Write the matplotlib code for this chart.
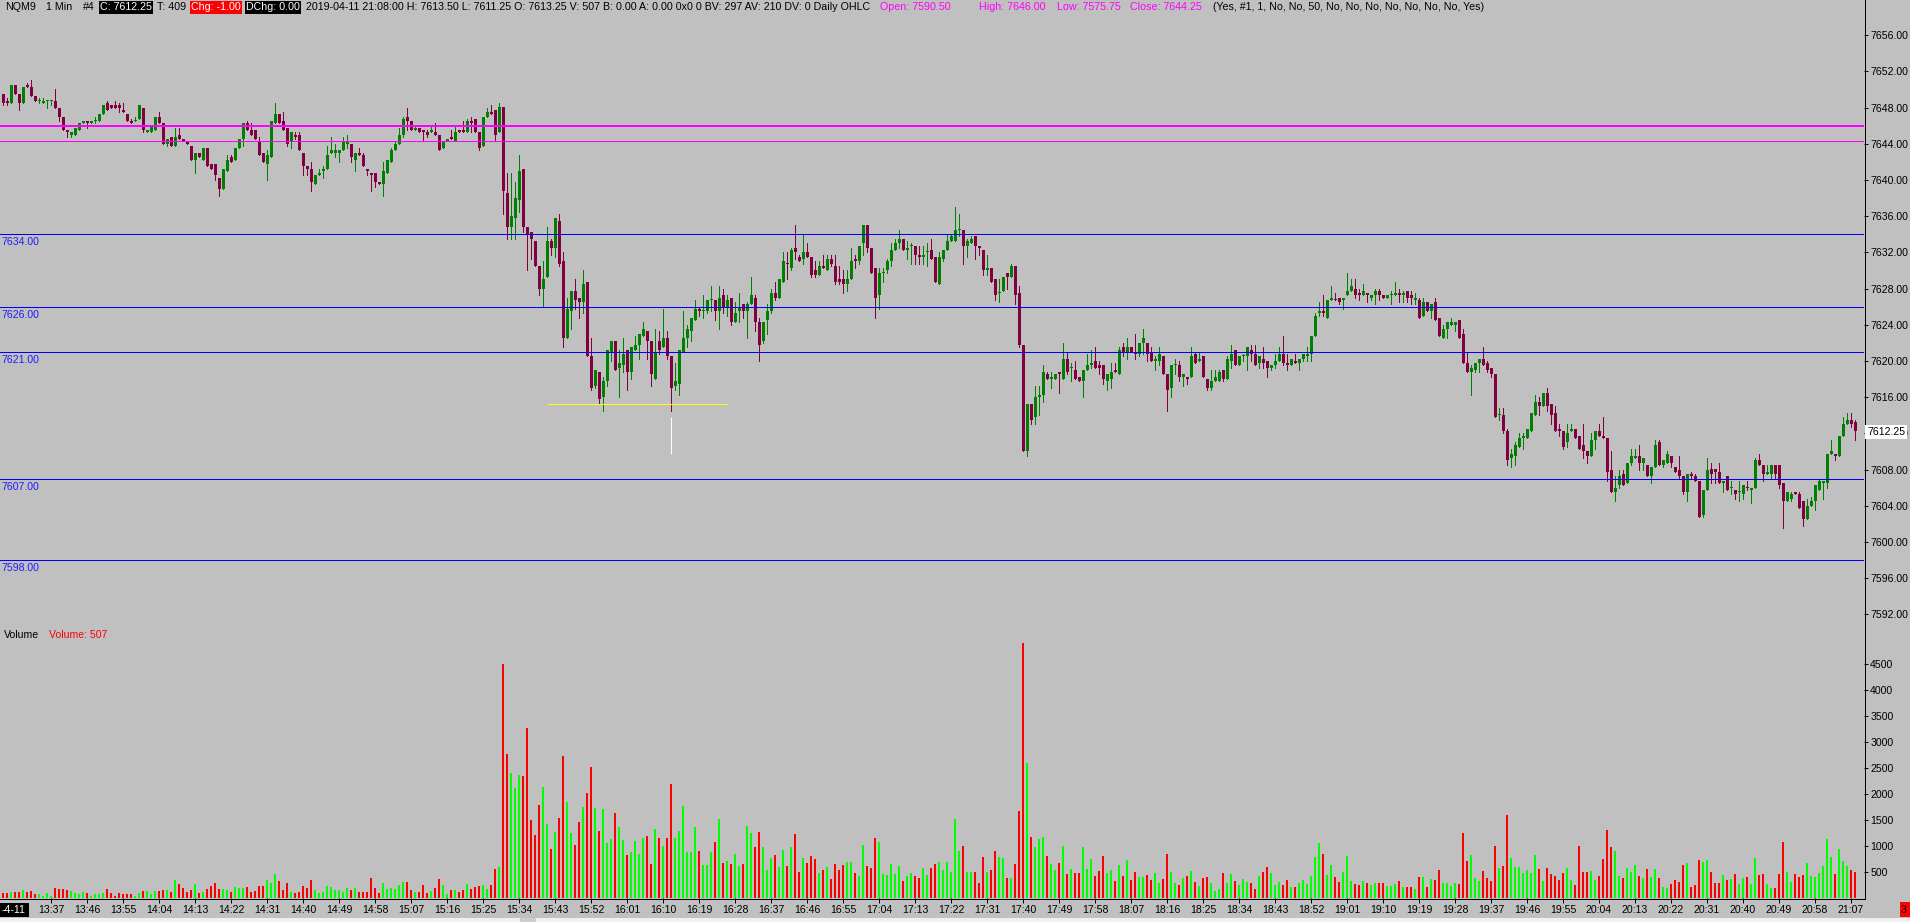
import numpy as np
import matplotlib
matplotlib.use('Agg')
import matplotlib.pyplot as plt
from matplotlib import font_manager
from matplotlib.lines import Line2D
from matplotlib.patches import Rectangle

# ---------------------------------------------------------------
# NQM9 1 min bars, 13:25 -> 21:08 (one bar per minute)
start_time = '13:25'

opens = [
    7649.5, 7648.75, 7648.5, 7650.5, 7649.5, 7648.5, 7650.5, 7650.25, 7649.25, 7648.75,
    7648.5, 7648.75, 7648.75, 7648.75, 7648.0, 7647.0, 7645.5, 7645.0, 7645.0, 7645.5,
    7646.25, 7646.5, 7646.25, 7646.5, 7646.5, 7647.25, 7648.5, 7648.25, 7648.25, 7648.25,
    7647.75, 7647.25, 7646.5, 7646.5, 7646.75, 7648.0, 7645.25, 7645.25, 7645.5, 7647.0,
    7646.25, 7644.0, 7644.75, 7643.75, 7645.0, 7644.5, 7644.25, 7643.75, 7642.25, 7643.0,
    7642.25, 7643.5, 7641.75, 7641.75, 7640.25, 7639.0, 7641.0, 7642.5, 7642.25, 7643.5,
    7644.5, 7646.25, 7645.5, 7645.5, 7644.25, 7643.0, 7641.75, 7642.5, 7646.25, 7647.25,
    7646.5, 7645.75, 7644.25, 7645.0, 7645.0, 7643.0, 7641.5, 7641.25, 7639.5, 7640.5,
    7641.0, 7641.25, 7643.0, 7643.0, 7643.0, 7643.25, 7644.0, 7644.0, 7642.25, 7643.0,
    7642.75, 7641.25, 7640.75, 7640.75, 7639.75, 7639.5, 7640.75, 7642.0, 7643.25, 7644.0,
    7645.0, 7647.0, 7646.5, 7645.5, 7645.75, 7645.5, 7645.25, 7645.25, 7645.25, 7645.0,
    7643.5, 7644.25, 7644.75, 7644.25, 7645.5, 7645.5, 7645.25, 7646.5, 7646.75, 7645.25,
    7643.75, 7647.0, 7647.5, 7647.75, 7645.25, 7648.0, 7638.5, 7634.75, 7635.75, 7637.75,
    7641.25, 7634.75, 7634.25, 7633.25, 7630.5, 7628.0, 7629.25, 7633.25, 7632.5, 7635.5,
    7631.0, 7622.5, 7625.5, 7627.75, 7627.0, 7626.5, 7628.75, 7620.5, 7617.25, 7618.75,
    7616.0, 7617.75, 7621.0, 7622.25, 7619.25, 7619.5, 7621.25, 7618.75, 7621.25, 7621.75,
    7622.75, 7623.25, 7622.25, 7618.0, 7622.25, 7621.5, 7622.5, 7620.5, 7617.25, 7617.5,
    7621.0, 7622.5, 7623.25, 7624.5, 7625.75, 7625.5, 7625.5, 7626.75, 7626.75, 7625.5,
    7627.25, 7626.0, 7627.0, 7624.25, 7625.5, 7626.25, 7625.5, 7626.25, 7627.0, 7624.25,
    7622.25, 7624.5, 7625.5, 7627.5, 7627.0, 7628.75, 7630.75, 7630.25, 7632.5, 7631.5,
    7631.25, 7632.0, 7631.5, 7630.0, 7629.5, 7630.5, 7630.0, 7631.25, 7630.5, 7629.0,
    7629.0, 7628.5, 7629.0, 7631.25, 7631.0, 7633.0, 7635.0, 7632.5, 7630.25, 7627.25,
    7629.75, 7630.0, 7631.0, 7632.25, 7633.0, 7633.5, 7632.25, 7632.75, 7632.75, 7631.75,
    7631.5, 7632.0, 7632.25, 7631.5, 7628.5, 7631.25, 7632.25, 7633.25, 7633.25, 7634.5,
    7634.5, 7632.75, 7633.0, 7633.75, 7632.75, 7632.25, 7630.0, 7630.25, 7629.0, 7627.5,
    7627.75, 7629.75, 7629.25, 7630.5, 7627.5, 7621.75, 7610.0, 7615.25, 7613.75, 7616.0,
    7616.25, 7618.5, 7618.0, 7618.0, 7618.75, 7618.0, 7620.25, 7619.25, 7619.0, 7618.25,
    7617.75, 7619.0, 7619.5, 7620.0, 7619.5, 7619.5, 7617.75, 7618.0, 7619.0, 7618.5,
    7621.5, 7621.0, 7621.5, 7621.0, 7620.75, 7622.0, 7622.0, 7621.0, 7620.0, 7620.0,
    7620.5, 7618.5, 7617.0, 7619.5, 7619.5, 7618.25, 7618.25, 7618.25, 7620.75, 7620.0,
    7620.5, 7618.0, 7617.0, 7617.75, 7617.75, 7619.0, 7618.0, 7620.0, 7621.25, 7619.5,
    7620.5, 7620.5, 7621.25, 7620.75, 7619.75, 7620.25, 7620.0, 7619.25, 7619.5, 7620.0,
    7620.75, 7619.75, 7619.5, 7620.0, 7619.75, 7620.25, 7620.5, 7620.75, 7622.75, 7625.25,
    7625.5, 7624.75, 7626.75, 7626.75, 7627.0, 7626.75, 7627.25, 7627.75, 7628.0, 7627.5,
    7627.25, 7627.5, 7627.0, 7627.25, 7627.75, 7627.25, 7627.0, 7627.25, 7627.25, 7627.5,
    7627.25, 7627.75, 7627.25, 7626.75, 7626.75, 7625.0, 7626.5, 7625.5, 7626.5, 7624.75,
    7622.5, 7623.5, 7624.0, 7624.0, 7624.5, 7623.0, 7619.75, 7618.75, 7619.0, 7619.75,
    7620.25, 7619.75, 7619.25, 7618.5, 7614.0, 7614.0, 7612.25, 7609.25, 7609.5, 7610.5,
    7611.5, 7611.5, 7612.25, 7614.0, 7615.5, 7615.0, 7616.5, 7615.25, 7614.25, 7612.5,
    7612.25, 7611.0, 7612.25, 7612.5, 7611.75, 7610.75, 7610.0, 7609.5, 7611.25, 7612.25,
    7611.75, 7611.5, 7608.0, 7605.5, 7606.25, 7607.5, 7606.5, 7608.75, 7609.25, 7609.5,
    7608.75, 7608.5, 7607.25, 7608.25, 7611.0, 7608.5, 7608.75, 7609.5, 7608.25, 7608.0,
    7607.25, 7605.5, 7607.5, 7607.25, 7606.75, 7603.0, 7605.75, 7608.0, 7608.0, 7607.75,
    7606.5, 7607.25, 7606.0, 7605.75, 7605.5, 7605.25, 7606.0, 7605.75, 7606.0, 7609.0,
    7608.5, 7607.5, 7607.5, 7608.5, 7608.5, 7606.5, 7604.5, 7604.75, 7605.5, 7605.25,
    7604.5, 7602.5, 7604.0, 7604.5, 7605.75, 7606.5, 7606.5, 7609.75, 7609.75, 7609.5,
    7611.75, 7613.0, 7613.5, 7613.25,
]

highs = [
    7649.5, 7649.0, 7650.5, 7650.5, 7649.5, 7650.25, 7650.75, 7651.0, 7649.25, 7649.0,
    7649.0, 7648.75, 7648.75, 7650.0, 7648.0, 7647.0, 7645.5, 7645.25, 7645.75, 7646.25,
    7646.5, 7646.5, 7646.5, 7647.0, 7647.25, 7648.25, 7648.75, 7648.25, 7648.75, 7648.5,
    7648.5, 7647.25, 7646.75, 7647.0, 7648.25, 7648.0, 7645.5, 7646.0, 7647.0, 7647.5,
    7646.25, 7644.5, 7644.75, 7645.75, 7645.75, 7644.5, 7644.25, 7643.75, 7643.0, 7643.0,
    7643.5, 7643.5, 7641.75, 7641.75, 7640.25, 7641.25, 7642.75, 7642.75, 7643.5, 7644.5,
    7646.25, 7646.5, 7646.25, 7645.5, 7644.75, 7643.0, 7643.25, 7646.5, 7648.5, 7647.25,
    7647.5, 7645.75, 7645.25, 7645.25, 7645.25, 7643.0, 7641.5, 7642.0, 7640.5, 7641.25,
    7641.5, 7643.75, 7644.75, 7644.0, 7643.25, 7644.75, 7645.0, 7644.0, 7643.0, 7643.5,
    7643.0, 7641.25, 7640.75, 7640.75, 7639.75, 7642.0, 7642.25, 7643.5, 7644.25, 7645.75,
    7647.0, 7648.0, 7646.5, 7646.0, 7645.75, 7645.5, 7645.5, 7646.0, 7646.25, 7645.0,
    7644.25, 7644.5, 7645.5, 7646.0, 7645.5, 7646.5, 7646.75, 7647.0, 7646.75, 7645.25,
    7647.0, 7648.0, 7648.25, 7647.75, 7648.5, 7648.0, 7640.75, 7640.75, 7639.75, 7642.75,
    7641.25, 7634.75, 7634.25, 7633.25, 7630.5, 7631.0, 7634.75, 7633.5, 7635.75, 7636.25,
    7632.0, 7627.0, 7627.75, 7629.0, 7627.0, 7630.0, 7628.75, 7622.5, 7619.0, 7618.75,
    7618.25, 7621.25, 7622.25, 7622.25, 7621.25, 7622.5, 7621.25, 7621.5, 7622.75, 7623.0,
    7624.25, 7623.25, 7622.25, 7623.5, 7623.25, 7625.75, 7623.25, 7620.5, 7619.75, 7621.25,
    7625.5, 7624.0, 7624.75, 7626.75, 7626.0, 7627.25, 7626.75, 7628.25, 7626.75, 7628.25,
    7628.0, 7627.25, 7627.0, 7626.5, 7627.5, 7626.25, 7626.5, 7629.25, 7627.25, 7624.75,
    7624.25, 7626.25, 7628.0, 7628.75, 7629.0, 7632.0, 7632.0, 7632.5, 7635.0, 7631.75,
    7634.0, 7633.0, 7631.5, 7631.0, 7631.0, 7631.75, 7631.75, 7631.75, 7631.75, 7630.5,
    7630.0, 7630.0, 7632.5, 7631.75, 7632.75, 7635.0, 7635.0, 7632.5, 7630.25, 7630.25,
    7630.25, 7631.25, 7633.0, 7633.5, 7634.5, 7633.5, 7633.25, 7633.0, 7632.75, 7632.75,
    7632.75, 7633.0, 7633.5, 7631.5, 7632.0, 7632.25, 7634.0, 7634.0, 7637.0, 7636.25,
    7634.5, 7633.5, 7633.75, 7633.75, 7632.75, 7632.25, 7631.75, 7630.25, 7629.0, 7629.0,
    7629.25, 7629.75, 7630.75, 7630.5, 7628.25, 7621.75, 7615.25, 7615.25, 7617.25, 7617.25,
    7619.5, 7618.75, 7618.75, 7618.5, 7618.75, 7622.0, 7621.0, 7619.75, 7620.0, 7618.25,
    7619.0, 7620.75, 7621.25, 7621.5, 7620.0, 7619.5, 7618.5, 7619.75, 7619.75, 7621.5,
    7622.0, 7622.5, 7621.5, 7623.0, 7622.0, 7623.5, 7622.0, 7621.5, 7620.5, 7621.5,
    7620.5, 7618.5, 7619.5, 7620.25, 7620.0, 7618.5, 7618.25, 7621.5, 7621.0, 7621.0,
    7620.5, 7618.0, 7619.0, 7619.0, 7619.0, 7619.0, 7620.5, 7621.75, 7621.25, 7620.5,
    7620.75, 7621.5, 7621.75, 7621.75, 7620.5, 7621.5, 7620.0, 7619.5, 7620.75, 7621.5,
    7622.75, 7620.75, 7620.25, 7620.75, 7620.25, 7620.75, 7621.5, 7622.75, 7625.25, 7626.5,
    7627.25, 7626.75, 7628.25, 7627.5, 7627.0, 7627.0, 7629.75, 7629.0, 7629.0, 7628.0,
    7628.5, 7627.5, 7627.25, 7628.0, 7628.0, 7627.25, 7627.25, 7627.75, 7628.75, 7628.0,
    7627.75, 7627.75, 7627.75, 7627.5, 7627.0, 7627.0, 7626.5, 7626.25, 7627.0, 7624.75,
    7624.0, 7624.25, 7624.75, 7624.25, 7624.5, 7623.5, 7621.0, 7619.5, 7619.75, 7620.25,
    7621.5, 7620.0, 7619.25, 7618.5, 7614.75, 7614.75, 7612.5, 7610.25, 7611.0, 7612.0,
    7612.0, 7612.5, 7614.25, 7616.25, 7616.0, 7616.5, 7617.0, 7615.25, 7615.0, 7613.0,
    7612.25, 7613.0, 7613.0, 7612.5, 7611.75, 7613.0, 7610.0, 7612.0, 7612.25, 7613.0,
    7613.75, 7611.5, 7610.0, 7607.25, 7608.0, 7608.0, 7608.75, 7610.25, 7610.25, 7610.75,
    7609.25, 7608.5, 7608.25, 7611.25, 7611.25, 7609.0, 7610.0, 7609.5, 7608.25, 7609.5,
    7607.25, 7607.5, 7607.75, 7607.5, 7606.75, 7605.75, 7609.25, 7608.75, 7608.0, 7608.75,
    7606.75, 7607.25, 7606.75, 7605.75, 7606.75, 7606.25, 7606.75, 7606.0, 7609.25, 7609.75,
    7608.5, 7608.5, 7608.5, 7608.5, 7608.5, 7606.5, 7605.5, 7605.5, 7605.5, 7605.5,
    7604.5, 7604.75, 7605.0, 7606.25, 7607.0, 7606.75, 7609.75, 7611.25, 7609.75, 7611.75,
    7613.75, 7614.25, 7614.25, 7613.5,
]

lows = [
    7648.25, 7648.25, 7648.5, 7649.5, 7647.75, 7648.5, 7650.25, 7649.25, 7648.75, 7648.5,
    7648.5, 7648.0, 7648.25, 7648.0, 7646.5, 7645.5, 7644.75, 7644.75, 7645.0, 7645.5,
    7646.25, 7645.75, 7646.25, 7646.25, 7646.5, 7647.25, 7647.75, 7648.0, 7648.0, 7647.5,
    7647.5, 7646.5, 7646.25, 7646.5, 7646.75, 7645.25, 7645.25, 7645.25, 7645.5, 7646.25,
    7644.0, 7643.75, 7643.75, 7643.75, 7644.5, 7644.25, 7644.0, 7642.25, 7640.75, 7642.5,
    7642.25, 7641.5, 7641.25, 7640.0, 7638.25, 7639.0, 7641.0, 7642.0, 7642.25, 7643.5,
    7643.75, 7645.5, 7645.0, 7644.5, 7642.75, 7642.0, 7640.0, 7642.5, 7646.25, 7646.25,
    7645.5, 7643.75, 7643.5, 7644.5, 7643.25, 7640.5, 7640.5, 7638.75, 7639.5, 7640.5,
    7640.25, 7641.25, 7643.0, 7642.5, 7642.0, 7643.25, 7643.5, 7642.0, 7641.0, 7642.75,
    7641.5, 7640.5, 7638.75, 7639.25, 7639.5, 7638.25, 7640.75, 7642.0, 7643.25, 7644.0,
    7644.75, 7645.5, 7645.5, 7645.5, 7645.25, 7644.25, 7644.75, 7645.25, 7645.0, 7643.25,
    7643.5, 7644.25, 7644.5, 7644.25, 7645.25, 7645.25, 7645.25, 7645.25, 7645.25, 7643.25,
    7643.75, 7647.0, 7647.25, 7644.25, 7645.25, 7636.25, 7633.5, 7633.5, 7633.5, 7636.5,
    7634.25, 7630.0, 7631.25, 7630.5, 7627.25, 7626.0, 7629.25, 7631.75, 7631.5, 7630.5,
    7621.5, 7622.5, 7623.5, 7625.75, 7624.75, 7625.25, 7620.5, 7616.75, 7617.0, 7615.25,
    7614.5, 7617.25, 7620.0, 7619.0, 7616.0, 7618.75, 7616.75, 7618.0, 7621.25, 7620.25,
    7622.75, 7620.25, 7617.25, 7618.0, 7620.75, 7621.5, 7620.25, 7614.5, 7616.75, 7616.25,
    7621.0, 7621.5, 7622.25, 7624.5, 7625.0, 7624.75, 7625.25, 7625.5, 7624.5, 7623.5,
    7625.25, 7625.0, 7624.0, 7624.25, 7624.25, 7624.75, 7622.5, 7626.25, 7623.25, 7620.0,
    7622.0, 7623.0, 7625.25, 7626.75, 7627.0, 7628.75, 7629.0, 7630.0, 7631.25, 7631.0,
    7630.75, 7631.5, 7629.25, 7629.25, 7629.5, 7630.25, 7630.0, 7630.5, 7628.5, 7628.5,
    7627.5, 7627.75, 7629.0, 7630.25, 7630.75, 7631.75, 7632.0, 7629.75, 7624.75, 7625.75,
    7628.75, 7629.75, 7630.5, 7632.25, 7632.5, 7632.25, 7631.25, 7630.75, 7630.75, 7630.75,
    7630.75, 7630.5, 7631.25, 7628.75, 7628.5, 7631.0, 7632.25, 7633.25, 7633.25, 7633.75,
    7630.75, 7631.5, 7633.0, 7631.25, 7631.75, 7629.5, 7629.5, 7628.75, 7626.75, 7626.5,
    7627.75, 7628.0, 7629.25, 7626.25, 7621.5, 7610.0, 7609.5, 7613.0, 7613.0, 7614.0,
    7615.5, 7618.0, 7617.0, 7618.0, 7616.5, 7618.0, 7618.5, 7617.75, 7618.0, 7617.75,
    7616.0, 7619.0, 7619.25, 7619.25, 7618.5, 7617.5, 7616.75, 7617.0, 7618.75, 7618.5,
    7620.5, 7620.25, 7621.0, 7620.25, 7620.5, 7620.75, 7620.0, 7620.0, 7619.0, 7619.5,
    7618.5, 7614.5, 7616.0, 7618.5, 7617.75, 7617.25, 7617.5, 7618.25, 7619.75, 7620.0,
    7618.25, 7616.75, 7616.75, 7617.75, 7617.75, 7617.75, 7618.0, 7619.25, 7619.5, 7619.5,
    7620.0, 7619.0, 7620.0, 7619.5, 7619.25, 7619.25, 7618.25, 7619.0, 7619.25, 7620.0,
    7619.5, 7619.0, 7619.5, 7619.75, 7619.0, 7620.0, 7620.0, 7620.0, 7622.75, 7625.0,
    7625.0, 7624.75, 7626.75, 7626.75, 7626.25, 7625.75, 7627.25, 7627.75, 7627.0, 7626.75,
    7627.25, 7626.5, 7626.75, 7626.25, 7626.75, 7627.0, 7627.0, 7626.25, 7627.25, 7626.5,
    7626.5, 7626.5, 7626.25, 7626.25, 7624.75, 7625.0, 7625.5, 7624.75, 7624.5, 7622.75,
    7622.5, 7622.5, 7624.0, 7623.25, 7622.5, 7619.75, 7618.75, 7616.25, 7618.75, 7618.75,
    7619.5, 7618.75, 7618.25, 7613.75, 7613.5, 7612.0, 7608.5, 7608.25, 7608.5, 7610.5,
    7610.25, 7611.5, 7612.25, 7614.0, 7614.0, 7615.0, 7614.5, 7613.0, 7612.25, 7611.75,
    7610.25, 7610.5, 7612.25, 7611.5, 7610.25, 7609.25, 7608.75, 7609.5, 7610.25, 7611.75,
    7611.5, 7606.75, 7605.5, 7604.5, 7606.0, 7606.25, 7606.5, 7608.5, 7609.25, 7608.0,
    7608.0, 7607.25, 7606.5, 7608.25, 7608.5, 7608.25, 7608.75, 7608.25, 7607.75, 7607.0,
    7605.25, 7604.5, 7607.0, 7606.75, 7602.75, 7602.75, 7605.75, 7606.5, 7606.5, 7606.5,
    7605.5, 7605.75, 7605.25, 7604.75, 7604.5, 7604.75, 7605.75, 7604.25, 7606.0, 7608.5,
    7606.75, 7607.5, 7607.0, 7607.0, 7606.0, 7601.5, 7604.5, 7604.5, 7605.25, 7603.75,
    7601.75, 7602.5, 7604.0, 7603.5, 7605.75, 7604.75, 7606.0, 7609.75, 7609.0, 7609.5,
    7611.75, 7613.0, 7612.75, 7611.25,
]

closes = [
    7648.5, 7648.5, 7650.5, 7649.5, 7648.5, 7650.25, 7650.25, 7649.25, 7648.75, 7648.75,
    7648.75, 7648.75, 7648.75, 7648.0, 7647.0, 7645.5, 7645.25, 7645.25, 7645.75, 7646.25,
    7646.5, 7646.25, 7646.5, 7646.5, 7647.25, 7648.25, 7647.75, 7648.0, 7648.0, 7648.0,
    7647.5, 7646.5, 7646.25, 7646.5, 7648.25, 7645.5, 7645.5, 7646.0, 7647.0, 7646.25,
    7644.0, 7644.5, 7643.75, 7644.75, 7644.5, 7644.25, 7644.0, 7642.25, 7643.0, 7642.5,
    7643.5, 7641.5, 7641.25, 7640.5, 7639.0, 7641.25, 7642.25, 7642.0, 7643.5, 7644.5,
    7646.25, 7645.5, 7645.0, 7644.5, 7642.75, 7642.0, 7642.75, 7646.5, 7647.25, 7646.25,
    7645.5, 7644.0, 7645.25, 7644.75, 7643.25, 7641.5, 7641.25, 7639.75, 7640.5, 7640.75,
    7641.25, 7642.75, 7643.25, 7643.25, 7643.25, 7644.25, 7644.25, 7642.5, 7643.0, 7642.75,
    7641.5, 7641.0, 7640.5, 7639.75, 7639.5, 7641.0, 7642.25, 7643.25, 7644.0, 7645.0,
    7646.75, 7646.5, 7645.5, 7645.75, 7645.25, 7645.25, 7645.0, 7645.5, 7645.0, 7643.25,
    7644.25, 7644.5, 7644.5, 7645.25, 7645.25, 7645.25, 7646.5, 7646.25, 7645.25, 7643.5,
    7647.0, 7647.5, 7647.25, 7645.0, 7648.0, 7638.75, 7634.75, 7636.0, 7638.0, 7641.0,
    7634.75, 7634.0, 7633.5, 7630.5, 7628.0, 7629.0, 7633.25, 7632.5, 7635.75, 7630.75,
    7622.5, 7625.75, 7627.75, 7626.75, 7626.5, 7628.5, 7620.5, 7617.0, 7619.0, 7615.75,
    7617.75, 7621.25, 7622.25, 7619.0, 7619.75, 7620.75, 7618.75, 7621.5, 7621.75, 7623.0,
    7623.5, 7622.25, 7618.5, 7621.0, 7621.25, 7622.5, 7620.5, 7617.0, 7617.75, 7621.25,
    7622.5, 7623.5, 7624.75, 7625.75, 7625.5, 7625.5, 7626.75, 7626.75, 7625.5, 7627.0,
    7626.0, 7626.75, 7624.25, 7625.25, 7626.0, 7625.5, 7626.25, 7627.25, 7624.25, 7621.75,
    7624.25, 7625.5, 7627.5, 7627.0, 7629.0, 7631.0, 7630.75, 7632.25, 7632.0, 7631.0,
    7632.0, 7631.5, 7629.5, 7629.5, 7630.5, 7630.25, 7631.25, 7630.75, 7628.75, 7628.75,
    7628.5, 7629.0, 7631.0, 7631.0, 7632.75, 7635.0, 7632.5, 7629.75, 7627.0, 7629.75,
    7629.75, 7631.0, 7632.25, 7633.0, 7633.5, 7632.25, 7632.5, 7632.75, 7631.75, 7631.5,
    7631.75, 7632.0, 7631.25, 7628.75, 7631.5, 7632.25, 7633.25, 7633.75, 7634.5, 7634.5,
    7632.75, 7633.25, 7633.5, 7632.75, 7632.5, 7630.0, 7630.25, 7628.75, 7627.25, 7627.5,
    7629.25, 7629.25, 7630.5, 7627.25, 7621.75, 7610.0, 7615.25, 7613.5, 7616.0, 7616.25,
    7618.75, 7618.0, 7618.25, 7618.5, 7618.5, 7620.25, 7618.75, 7619.25, 7618.0, 7617.75,
    7619.0, 7619.5, 7619.75, 7619.25, 7619.25, 7618.0, 7618.5, 7618.75, 7618.75, 7621.25,
    7621.0, 7621.5, 7621.0, 7620.75, 7622.0, 7622.5, 7620.75, 7620.0, 7620.25, 7620.75,
    7618.5, 7616.75, 7619.5, 7619.5, 7618.25, 7618.5, 7618.0, 7620.5, 7619.75, 7620.25,
    7618.25, 7617.0, 7617.75, 7618.25, 7618.75, 7618.0, 7620.25, 7620.75, 7619.5, 7620.5,
    7620.5, 7621.5, 7620.75, 7619.5, 7620.5, 7619.75, 7619.25, 7619.5, 7620.0, 7620.75,
    7619.75, 7619.5, 7620.25, 7619.75, 7620.25, 7620.75, 7620.75, 7622.75, 7625.0, 7625.5,
    7625.25, 7626.75, 7627.0, 7626.75, 7626.5, 7627.0, 7627.75, 7628.25, 7627.25, 7627.25,
    7627.75, 7627.25, 7627.25, 7627.75, 7627.25, 7627.0, 7627.25, 7627.25, 7627.5, 7627.25,
    7627.5, 7627.0, 7627.0, 7627.0, 7624.75, 7626.5, 7625.5, 7626.25, 7624.5, 7622.75,
    7623.5, 7624.25, 7624.25, 7624.25, 7622.5, 7619.75, 7618.75, 7619.25, 7619.75, 7620.25,
    7619.5, 7619.0, 7618.5, 7613.75, 7614.0, 7612.25, 7609.0, 7609.75, 7610.75, 7611.5,
    7611.75, 7612.5, 7614.25, 7615.5, 7615.0, 7616.5, 7615.0, 7614.0, 7612.25, 7612.25,
    7610.5, 7612.0, 7612.5, 7611.5, 7610.25, 7610.0, 7609.5, 7611.25, 7612.25, 7611.75,
    7611.5, 7607.75, 7605.5, 7606.0, 7607.25, 7606.25, 7608.75, 7609.5, 7609.5, 7608.75,
    7609.25, 7607.25, 7608.25, 7610.75, 7608.5, 7609.0, 7609.75, 7608.75, 7607.75, 7607.25,
    7605.5, 7607.5, 7607.25, 7606.75, 7602.75, 7605.75, 7608.0, 7607.5, 7607.75, 7606.5,
    7606.75, 7605.75, 7606.0, 7605.25, 7605.5, 7606.25, 7606.0, 7606.0, 7609.0, 7608.5,
    7607.5, 7607.75, 7608.5, 7607.5, 7606.25, 7604.5, 7605.5, 7605.25, 7605.25, 7603.75,
    7602.5, 7604.0, 7604.5, 7606.25, 7606.75, 7606.75, 7609.75, 7610.0, 7609.5, 7611.75,
    7613.0, 7613.5, 7613.0, 7612.25,
]

volumes = [
    90, 90, 110, 110, 120, 155, 110, 135, 75, 75,
    45, 90, 45, 185, 175, 175, 155, 135, 90, 75,
    110, 90, 45, 75, 75, 90, 175, 90, 45, 90,
    75, 75, 75, 45, 90, 135, 135, 75, 135, 140,
    155, 155, 110, 345, 270, 185, 120, 155, 270, 100,
    120, 175, 230, 280, 175, 175, 155, 110, 205, 185,
    185, 205, 120, 140, 230, 230, 345, 295, 460, 335,
    155, 280, 110, 100, 120, 230, 185, 345, 155, 100,
    120, 230, 205, 155, 155, 110, 185, 155, 185, 110,
    120, 120, 385, 185, 100, 295, 175, 185, 175, 250,
    315, 315, 155, 110, 120, 250, 100, 135, 185, 365,
    250, 75, 155, 155, 110, 155, 260, 165, 205, 230,
    250, 165, 250, 555, 595, 4493, 2765, 2406, 2112, 2368,
    2342, 3264, 1498, 1216, 1792, 2131, 1421, 941, 1267, 1536,
    2726, 1843, 1248, 1018, 1459, 1747, 2016, 2515, 1728, 1286,
    1709, 1056, 1133, 1632, 1363, 1114, 826, 883, 1094, 845,
    1152, 1190, 653, 1325, 1152, 1000, 1150, 2189, 1152, 1286,
    1766, 883, 883, 1363, 902, 634, 634, 883, 1075, 1517,
    672, 710, 653, 845, 614, 653, 1382, 1248, 979, 1267,
    979, 538, 768, 826, 595, 922, 614, 979, 1229, 499,
    768, 672, 806, 755, 486, 538, 595, 365, 653, 538,
    634, 691, 691, 480, 422, 1018, 614, 576, 1152, 1075,
    461, 435, 653, 461, 614, 326, 422, 480, 422, 384,
    576, 442, 576, 653, 691, 538, 691, 499, 1517, 909,
    998, 505, 505, 505, 282, 794, 505, 538, 909, 794,
    762, 384, 384, 653, 1670, 4902, 2586, 1178, 986, 1133,
    1165, 806, 653, 538, 678, 998, 461, 550, 486, 474,
    979, 550, 755, 422, 525, 806, 474, 538, 333, 634,
    422, 730, 346, 505, 397, 397, 442, 346, 474, 282,
    365, 845, 499, 282, 250, 384, 422, 525, 314, 230,
    384, 403, 294, 141, 166, 486, 294, 461, 333, 250,
    365, 314, 294, 179, 422, 505, 595, 474, 243, 314,
    250, 346, 218, 205, 294, 346, 262, 422, 781, 1050,
    845, 442, 627, 397, 307, 499, 806, 333, 262, 250,
    333, 294, 250, 282, 282, 282, 230, 230, 262, 333,
    218, 205, 205, 179, 397, 410, 218, 359, 346, 538,
    294, 294, 230, 294, 270, 1254, 717, 826, 384, 333,
    525, 384, 333, 998, 576, 614, 1594, 768, 595, 595,
    474, 538, 486, 826, 563, 333, 576, 461, 422, 346,
    486, 576, 346, 250, 998, 499, 499, 525, 346, 422,
    742, 1306, 973, 909, 422, 384, 576, 499, 627, 422,
    384, 563, 397, 563, 384, 218, 198, 270, 346, 314,
    627, 666, 218, 243, 730, 691, 730, 499, 282, 282,
    442, 346, 359, 461, 270, 384, 397, 270, 768, 435,
    461, 270, 185, 185, 461, 1075, 499, 307, 461, 397,
    448, 666, 422, 397, 486, 614, 1133, 794, 461, 934,
    710, 614, 538, 507,
]

blue_levels = [7634.0, 7626.0, 7621.0, 7607.0, 7598.0]
magenta_levels = [7646.0, 7644.25]     # daily high, daily close
yellow_level = 7615.25
yellow_bars = (136, 181)
white_mark = (167, 7609.75, 7613.75)
last_price = 7612.25

price_ticks = list(range(7592, 7657, 4))
volume_ticks = list(range(500, 4501, 500))

long_seg = ('2019-04-11 21:08:00 H: 7613.50 L: 7611.25 O: 7613.25 V: 507 B: 0.00 A: 0.00 0x0 0 '
            'BV: 297 AV: 210 DV: 0 Daily OHLC')
header_parts = [
    (5, 'NQM9', 'black', None),
    (46, '1 Min', 'black', None),
    (83, '#4', 'black', None),
    (100, 'C: 7612.25', 'white', 'black'),
    (157, 'T: 409', 'black', None),
    (191, 'Chg: -1.00', 'white', '#FF0000'),
    (246, 'DChg: 0.00', 'white', 'black'),
    (306, long_seg, 'black', None),
    (880, 'Open: 7590.50', '#FF00FF', None),
    (979, 'High: 7646.00', '#FF00FF', None),
    (1057, 'Low: 7575.75', '#FF00FF', None),
    (1130, 'Close: 7644.25', '#FF00FF', None),
    (1213, '(Yes, #1, 1, No, No, 50, No, No, No, No, No, No, No, Yes)', 'black', None),
]

# ---------------------------------------------------------------
BG = '#C0C0C0'
UP = '#008000'
DOWN = '#800040'
VUP = '#00FF00'
VDOWN = '#FF0000'
BLUE = '#0000FF'
PX = 0.72  # one pixel in points at dpi 100

names = {f.name for f in font_manager.fontManager.ttflist}
if 'Liberation Sans Narrow' in names:
    plt.rcParams['font.family'] = ['Liberation Sans Narrow', 'DejaVu Sans']
else:
    plt.rcParams['font.family'] = ['Liberation Sans', 'DejaVu Sans']

W, H = 1910, 922
fig = plt.figure(figsize=(W / 100, H / 100), dpi=100, facecolor=BG)
renderer = fig.canvas.get_renderer()


def text_width(s, size):
    t = fig.text(0, 0, s, fontsize=size)
    w = t.get_window_extent(renderer).width
    t.remove()
    return w


# the chart software uses a narrow UI font: size ours so the widths agree
FS = 9 * 38 / text_width('7656.00', 9)
HFS = 9 * 566 / text_width(long_seg, 9)


def fx(px):
    return px / W


def fy(py):
    return 1 - py / H


RIGHT = 1864
ax = fig.add_axes([0, fy(628), fx(RIGHT), (628 - 14) / H])
axv = fig.add_axes([0, fy(898), fx(RIGHT), (898 - 640) / H])

# price scale: 9.05 px per point, 7598 sits at y=560
ax.set_ylim(7598 - (628 - 560) / 9.05, 7598 + (560 - 14) / 9.05)
axv.set_ylim(0, (898 - 640) * 19.2)
for a in (ax, axv):
    a.set_facecolor(BG)
    a.set_xlim(-0.75, (RIGHT - 3) / 4)
    for s in a.spines.values():
        s.set_visible(False)

o = np.array(opens)
h = np.array(highs)
l = np.array(lows)
c = np.array(closes)
v = np.array(volumes)
x = np.arange(len(c))
h = np.maximum(h, np.maximum(o, c))
l = np.minimum(l, np.minimum(o, c))
prev = np.r_[c[0], c[:-1]]
up = (c > o) | ((c == o) & (c >= prev))

ax.vlines(x, l, h, colors=np.where(up, UP, DOWN), lw=PX, antialiased=False, zorder=2)
ax.bar(x, np.maximum(np.abs(c - o), 0.11), bottom=np.minimum(o, c), width=0.75,
       color=np.where(up, UP, DOWN), lw=0, antialiased=False, zorder=3)

axv.bar(x, v, width=0.5, color=np.where(up, VUP, VDOWN), lw=0, antialiased=False)

# horizontal levels
for lvl in blue_levels:
    ax.axhline(lvl, color=BLUE, lw=PX, zorder=5)
    ax.annotate(f'{lvl:.2f}', xy=(0, lvl), xycoords=('axes fraction', 'data'),
                xytext=(1, -3), textcoords='offset pixels', ha='left', va='top',
                color='#1F1FFF', fontsize=FS)
ax.axhline(magenta_levels[0], color='#FF00FF', lw=2 * PX, zorder=5)
ax.axhline(magenta_levels[1], color='#FF00FF', lw=PX, zorder=5)
ax.hlines(yellow_level, yellow_bars[0], yellow_bars[1], color='#FFFF00', lw=PX, zorder=5)
ax.vlines(white_mark[0], white_mark[1], white_mark[2], color='white', lw=PX, zorder=5)

# right-hand scales
ax.set_xticks([])
ax.yaxis.tick_right()
ax.set_yticks(price_ticks)
ax.set_yticklabels([f'{p:.2f}' for p in price_ticks])
ax.tick_params(axis='y', length=4 * PX, width=PX, pad=1.5, labelsize=FS, colors='black')

axv.yaxis.tick_right()
axv.set_yticks(volume_ticks)
axv.set_yticklabels([str(t) for t in volume_ticks])
axv.tick_params(axis='y', length=4 * PX, width=PX, pad=1.5, labelsize=FS, colors='black')

# time axis, a label every 9 bars
h0, m0 = map(int, start_time.split(':'))
t_idx = [k for k in x if k >= 12 and (k - 12) % 9 == 0]
t_lab = []
for k in t_idx:
    mins = h0 * 60 + m0 + k
    t_lab.append(f'{mins // 60}:{mins % 60:02d}')
axv.set_xticks(t_idx)
axv.set_xticklabels(t_lab)
axv.tick_params(axis='x', length=5 * PX, width=PX, pad=1.5, labelsize=FS, colors='black')

# frame lines
fig.add_artist(Line2D([fx(RIGHT + 0.5)] * 2, [fy(0), fy(898)], transform=fig.transFigure,
                      color='black', lw=PX))
fig.add_artist(Line2D([0, fx(RIGHT + 0.5)], [fy(898.5)] * 2, transform=fig.transFigure,
                      color='black', lw=PX))

# current price box
fig.text(fx(1867), fy(432), f'{last_price:.2f}', fontsize=FS, color='black', va='center',
         ha='left', bbox=dict(boxstyle='square,pad=0.2', fc='white', ec='none'))

# header line
for px, s, col, bg in header_parts:
    kw = {}
    if bg is not None:
        kw['bbox'] = dict(boxstyle='square,pad=0.12', fc=bg, ec='none')
    fig.text(fx(px), fy(7.5), s, fontsize=HFS, color=col, va='center', ha='left', **kw)

# volume study title
fig.text(fx(4), fy(635), 'Volume', fontsize=FS, color='black', va='center', ha='left')
fig.text(fx(49), fy(635), 'Volume: 507', fontsize=FS, color='#FF0000', va='center', ha='left')

# date box at the left of the time axis (only its tail is visible in the chart)
fig.add_artist(Rectangle((0, fy(917)), 29 / W, 14 / H, transform=fig.transFigure,
                         fc='black', ec='none'))
fig.text(fx(2), fy(910), '-4-11', fontsize=FS, color='white', va='center', ha='left')

# scroll strip and the small red marker bottom right
fig.add_artist(Rectangle((0, 0), 1, 4 / H, transform=fig.transFigure, fc='#F0F0F0', ec='none'))
fig.add_artist(Rectangle((fx(520), 0), 16 / W, 4 / H, transform=fig.transFigure,
                         fc='#CDCDCD', ec='none'))
fig.add_artist(Rectangle((fx(1900), fy(917)), 10 / W, 15 / H, transform=fig.transFigure,
                         fc='#FF0000', ec='none'))
fig.text(fx(1901), fy(910), '3', fontsize=FS, color='black', va='center', ha='left')

fig.savefig('out.png', dpi=100, facecolor=BG)
plt.close(fig)
